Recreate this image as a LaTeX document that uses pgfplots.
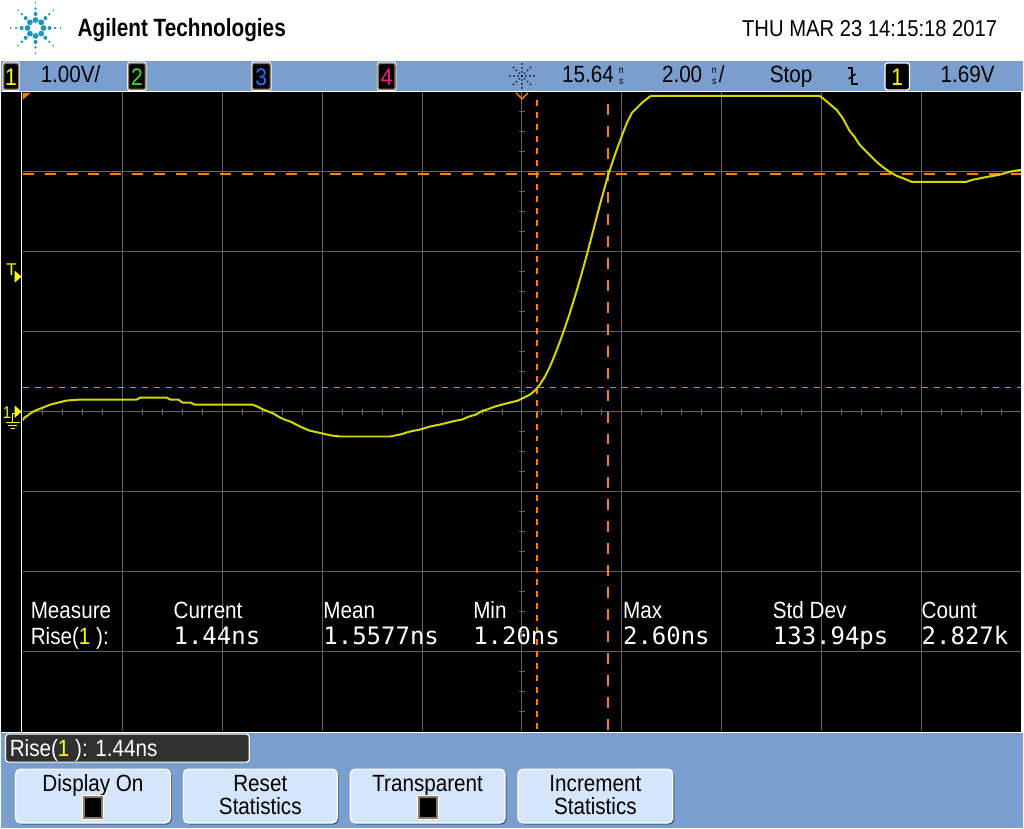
\documentclass[border=0pt]{standalone}
\usepackage{fontspec}
\setmainfont{Liberation Sans}
\newfontfamily\narrow[FakeStretch=0.88]{Liberation Sans}
\newfontfamily\logofont[FakeStretch=0.83]{Liberation Sans}
\newfontfamily\mono{DejaVu Sans Mono}
\usepackage{pgfplots}
\pgfplotsset{compat=1.18}

\definecolor{scopeblue}{RGB}{122,159,206}
\definecolor{btnblue}{RGB}{214,230,250}
\definecolor{btnshadow}{RGB}{70,90,120}
\definecolor{trace}{RGB}{215,215,0}
\definecolor{cursor}{RGB}{255,128,0}
\definecolor{gridgray}{RGB}{100,100,100}
\definecolor{agilent}{RGB}{25,150,190}
\definecolor{ch1}{RGB}{255,255,0}
\definecolor{ch2}{RGB}{40,230,40}
\definecolor{ch3}{RGB}{40,110,255}
\definecolor{ch4}{RGB}{255,30,120}
\definecolor{boxedge}{RGB}{140,125,90}
\definecolor{risebox}{RGB}{48,48,48}

\newcommand\ui{\fontsize{23.5bp}{26bp}\selectfont\narrow}
\newcommand\val{\fontsize{24bp}{26bp}\selectfont\mono}

\begin{document}
\begin{tikzpicture}
% page, bars and screen
\begin{scope}[x=1bp,y=-1bp]
  \fill[white] (0,0) rectangle (1024,829);
  \fill[scopeblue] (0,61) rectangle (1024,92);
  \fill[black] (0,92) rectangle (1024,733);
  \fill[scopeblue] (0,733) rectangle (1024,829);
\end{scope}

\begin{axis}[
    at={(22bp,-732bp)}, anchor=south west,
    width=1000bp, height=640bp, scale only axis,
    xmin=-10, xmax=10, ymin=-4, ymax=4,
    axis lines=middle,
    axis line style={gridgray, line width=1bp, -},
    xtick={-8,-6,...,8}, ytick={-3,-2,...,3},
    minor xtick={-9.6,-9.2,...,9.6},
    minor ytick={-3.75,-3.5,...,3.75},
    xticklabels={}, yticklabels={},
    tick align=center,
    major tick length=6bp, minor tick length=6bp,
    tick style={gridgray, line width=1bp},
    grid=major,
    major grid style={gridgray, line width=1bp},
  ]
  % cursors X1, X2, Y1, Y2
  \addplot[cursor, line width=1.6bp, dash pattern=on 6bp off 6bp] coordinates {(0.30,3.9)(0.30,-4)};
  \addplot[cursor, line width=1.6bp, dash pattern=on 11bp off 11bp] coordinates {(1.72,3.85)(1.72,-4)};
  \addplot[cursor, line width=1.6bp, dash pattern=on 6bp off 6bp] coordinates {(-10,0.30)(10,0.30)};
  \addplot[cursor, line width=1.6bp, dash pattern=on 11bp off 11bp] coordinates {(-10,2.975)(10,2.975)};
  % channel 1, time in ns from trigger, volts
  \addplot[trace, line width=2bp] coordinates {
    (-10.00,-0.11) (-9.96,-0.075) (-9.90,-0.05) (-9.82,-0.0125) (-9.74,0.0125)
    (-9.64,0.0375) (-9.54,0.0625) (-9.44,0.0875) (-9.28,0.1125) (-9.12,0.1375)
    (-8.84,0.15) (-7.72,0.15) (-7.64,0.175) (-7.12,0.175) (-7.04,0.15)
    (-6.88,0.15) (-6.80,0.1125) (-6.64,0.1125) (-6.56,0.0875) (-5.40,0.0875)
    (-5.30,0.0625) (-5.18,0.025) (-5.08,0) (-4.98,-0.025) (-4.88,-0.0625)
    (-4.76,-0.10) (-4.64,-0.125) (-4.52,-0.1625) (-4.40,-0.20) (-4.26,-0.2375)
    (-4.08,-0.2625) (-3.82,-0.30) (-3.64,-0.3125) (-2.64,-0.3125) (-2.44,-0.2875)
    (-2.24,-0.25) (-2.04,-0.225) (-1.84,-0.1875) (-1.64,-0.1625) (-1.40,-0.125)
    (-1.20,-0.10) (-1.06,-0.0625) (-0.92,-0.0375) (-0.82,0) (-0.70,0.025)
    (-0.54,0.0625) (-0.32,0.10) (-0.08,0.1375) (0.04,0.175) (0.16,0.2125)
    (0.26,0.2625) (0.36,0.3375) (0.46,0.4375) (0.56,0.5625) (0.66,0.7125)
    (0.76,0.875) (0.86,1.05) (0.96,1.2375) (1.06,1.4375) (1.16,1.65)
    (1.30,1.9625) (1.42,2.25) (1.56,2.5875) (1.66,2.8125) (1.74,2.9875)
    (1.86,3.2125) (2.00,3.45) (2.10,3.6125) (2.20,3.7375) (2.30,3.80)
    (2.40,3.8625) (2.50,3.9125) (2.58,3.95) (5.96,3.95) (6.04,3.9125)
    (6.16,3.85) (6.30,3.775) (6.42,3.675) (6.56,3.5125) (6.66,3.4375)
    (6.76,3.3375) (6.86,3.275) (6.96,3.2125) (7.10,3.125) (7.22,3.0625)
    (7.36,3.00) (7.50,2.95) (7.66,2.9125) (7.80,2.875) (8.90,2.875)
    (9.02,2.90) (9.32,2.9375) (9.56,2.9625) (9.76,3.00) (10.00,3.025)
  };
\end{axis}

\begin{scope}[x=1bp,y=-1bp, every node/.style={inner sep=0pt}]
  % screen frame
  \draw[white, line width=1.2bp] (0,92) -- (1024,92);
  \draw[white, line width=1.2bp] (0,733) -- (1024,733);
  \draw[white, line width=1.2bp] (21,92) -- (21,733);
  \draw[white, line width=1.2bp] (1022.5,92) -- (1022.5,733);

  % header
  \foreach \a in {0,45,...,315} {
    \fill[agilent] (35,28) ++(\a:8) circle (2.9);
    \fill[agilent] (35,28) ++(\a:14) circle (2.0);
    \fill[agilent] (35,28) ++(\a:19.5) circle (1.3);
    \fill[agilent] (35,28) ++(\a:25) circle (0.9);
  }
  \node[anchor=base west] at (77,37) {\fontsize{25bp}{28bp}\selectfont\logofont\bfseries Agilent Technologies};
  \node[anchor=base east] at (998,37) {\fontsize{23bp}{26bp}\selectfont\narrow THU MAR 23 14:15:18 2017};

  % top bar
  \foreach \xa/\xb/\c/\d in {3/18/ch1/1, 128/145/ch2/2, 252/270/ch3/3, 378/395/ch4/4} {
    \draw[white, line width=1bp, rounded corners=2.5bp] (\xa-0.8,62.2) rectangle (\xb+0.8,90.8);
    \draw[boxedge, line width=1.4bp, fill=black, rounded corners=2bp] (\xa,63.5) rectangle (\xb,89.5);
    \node[text=\c] at ({(\xa+\xb)/2},77) {\fontsize{24bp}{26bp}\selectfont\narrow \d};
  }
  \node[anchor=base west] at (40,83) {\ui 1.00V/};
  \foreach \r in {4,8,12} {
    \foreach \a in {0,45,...,315} {\fill[black] (522,76) ++(\a:\r) circle (0.9);}
  }
  \fill[black] (522,76) circle (1.2);
  \node[anchor=base west] at (562,83) {\ui 15.64};
  \node[align=center, font={\fontsize{10bp}{11.5bp}\selectfont\narrow}] at (621.5,76.5) {n\\s};
  \node[anchor=base west] at (662,83) {\ui 2.00};
  \node[align=center, font={\fontsize{10bp}{11.5bp}\selectfont\narrow}] at (714.5,76.5) {n\\s};
  \node[anchor=base west] at (719,83) {\ui /};
  \node[anchor=base west] at (770,83) {\ui Stop};
  \draw[black, line width=1.6bp] (848,68) -- (852.5,68) -- (852.5,84) -- (858,84);
  \draw[black, line width=1.4bp] (849,79) -- (856,74);
  \draw[white, line width=1.2bp, fill=black, rounded corners=2.5bp] (885.5,63) rectangle (910,90);
  \node[text=ch1] at (897.75,77) {\fontsize{24bp}{26bp}\selectfont\narrow 1};
  \node[anchor=base west] at (941,83) {\ui 1.69V};

  % markers on the screen edge
  \fill[cursor] (22,93) -- (30,93) -- (22,100) -- cycle;
  \draw[cursor, line width=1.3bp] (516,93) -- (522,99) -- (528,93);
  \node[anchor=base west, text=ch1] at (5.5,276) {\fontsize{17bp}{18bp}\selectfont T};
  \fill[ch1] (14,271) -- (21,277) -- (14,283) -- cycle;
  \node[anchor=base west, text=ch1] at (2,418.5) {\fontsize{17bp}{18bp}\selectfont\narrow 1};
  \fill[ch1] (14,406) -- (21,412) -- (14,418.5) -- cycle;
  \draw[ch1, line width=1.2bp] (14,414) -- (12,414) -- (12,423);
  \draw[ch1, line width=1.2bp] (5,423) -- (19,423);
  \draw[ch1, line width=1.2bp] (7.5,426) -- (16.5,426);
  \draw[ch1, line width=1.2bp] (10,429) -- (14,429);

  % measurement statistics
  \foreach \x/\t in {30/Measure, 173/Current, 323/Mean, 473/Min, 623/Max, 773/Std Dev, 922/Count} {
    \node[anchor=base west, text=white] at (\x,619) {\ui \t};
  }
  \node[anchor=base west, text=white] at (30,645) {\ui Rise(\textcolor{ch1}{1} ):};
  \foreach \x/\t in {173/1.44ns, 323/1.5577ns, 473/1.20ns, 623/2.60ns, 773/133.94ps, 922/2.827k} {
    \node[anchor=base west, text=white] at (\x,645) {\val \t};
  }

  % bottom softkeys
  \draw[white, line width=1.2bp, fill=risebox, rounded corners=3bp] (5,735) rectangle (249,763);
  \node[anchor=base west, text=white] at (9,757) {\ui Rise(\textcolor{ch1}{1} ): 1.44ns};
  \foreach \xa/\xb in {15/170, 183/337, 350/505, 518/673} {
    \fill[btnshadow, rounded corners=5bp] (\xa+1.5,771.5) rectangle (\xb+1.5,825.5);
    \draw[white, line width=1.2bp, fill=btnblue, rounded corners=5bp] (\xa,770) rectangle (\xb,824);
  }
  \node[anchor=base] at (92.5,792) {\ui Display On};
  \node[anchor=base] at (260,792) {\ui Reset};
  \node[anchor=base] at (260,815) {\ui Statistics};
  \node[anchor=base] at (427.5,792) {\ui Transparent};
  \node[anchor=base] at (595.5,792) {\ui Increment};
  \node[anchor=base] at (595.5,815) {\ui Statistics};
  \foreach \cx in {92.5, 427.5} {
    \draw[white, line width=1bp] (\cx-10.5,796) rectangle (\cx+10.5,820);
    \draw[boxedge, line width=2bp, fill=black] (\cx-9,797.5) rectangle (\cx+9,818.5);
  }
\end{scope}
\end{tikzpicture}
\end{document}
